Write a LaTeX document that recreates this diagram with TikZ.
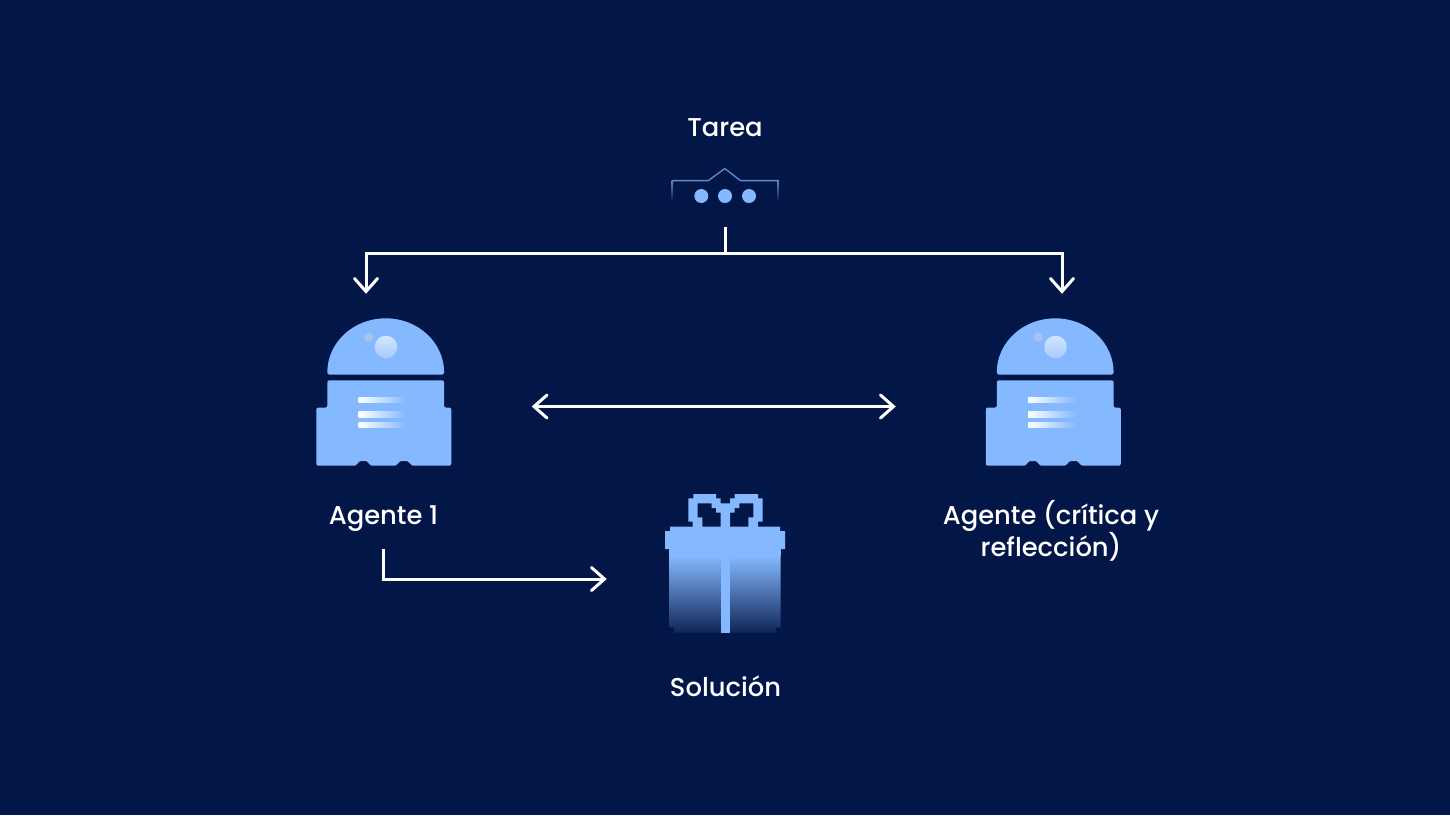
\documentclass[tikz,border=0pt]{standalone}
\usepackage{fontspec}
\setmainfont{Poppins}[UprightFont={* Medium}]
\usetikzlibrary{arrows.meta}
\definecolor{bg}{HTML}{021648}
\definecolor{ico}{HTML}{85B9FF}
\definecolor{ln}{HTML}{5F8CCB}
\definecolor{botm}{HTML}{0F2558}
\definecolor{bubble}{HTML}{A6C3EC}
\pgfdeclarearrow{name=OpenVee,
 setup code={\pgfarrowssettipend{2pt}\pgfarrowssetlineend{-1pt}\pgfarrowssetbackend{-13pt}\pgfarrowssetvisualbackend{-13pt}},
 drawing code={\pgfsetdash{}{0pt}\pgfsetroundcap\pgfsetmiterjoin
  \pgfpathmoveto{\pgfpoint{-13pt}{11.5pt}}\pgfpathlineto{\pgfpoint{0pt}{0pt}}\pgfpathlineto{\pgfpoint{-13pt}{-11.5pt}}\pgfusepathqstroke}}
\tikzset{
 lbl/.style={text=white,font=\fontsize{25.8}{32}\selectfont,align=center,inner sep=0pt},
 conn/.style={draw=white,line width=3pt},
 tip/.style={-{OpenVee}},
 tips/.style={{OpenVee}-{OpenVee}},
 dot/.style={circle,fill=ico,minimum size=14pt,inner sep=0pt},
 stripe/.style={left color=white,right color=ico},
 fadeline/.style={top color=ln,bottom color=bg},
}
\newcommand{\robot}[1]{%
\begin{scope}[xshift=#1]
 \fill[ico] (327.3,372.3) arc[start angle=180,end angle=360,x radius=58.4,y radius=54] -- (444.1,372.8) to[out=90,in=0] (442.6,374.6) -- (329,374.6) to[out=180,in=90] (327.3,372.8) -- cycle;
 \fill[ico,rounded corners=2pt] (327.3,380.3) -- (444.1,380.3) -- (444.1,407.6) -- (451.3,407.6) -- (451.3,465.7) -- (410.8,465.7) -- (409,461) -- (399,461) -- (397.3,465.7) -- (369.5,465.7) -- (368,461) -- (358.5,461) -- (357,465.7) -- (316.3,465.7) -- (316.3,407.6) -- (327.3,407.6) -- cycle;
 \shade[stripe] (358.7,397) rectangle (406,402.3);
 \shade[stripe] (358.7,411.7) rectangle (406,417);
 \shade[stripe] (358.7,422.3) rectangle (406,427.7);
 \shade[top color=ico!35!white,bottom color=ico!75!white] (386,347) circle[radius=11.3];
 \fill[bubble] (368.7,337.3) circle[radius=4.7];
\end{scope}}
\begin{document}
\begin{tikzpicture}[x=1pt,y=-1pt]
\useasboundingbox (0,0) rectangle (1450,815);
\fill[bg] (0,0) rectangle (1450,815);
% labels
\node[lbl] (tarea) at (725,127.5) {Tarea};
\node[lbl] (ag1) at (383.5,518.5) {Agente 1};
\node[lbl] (ag2) at (1051,531) {Agente (crítica y\\reflección)};
\node[lbl] (sol) at (725.5,686) {Solución};
% task icon
\shade[fadeline] (671.6,180) rectangle (673,202);
\shade[fadeline] (777.4,180) rectangle (778.8,202);
\draw[ln,line width=1.3pt] (672.3,180.6) -- (708.3,180.6) -- (724.8,168.5) -- (740.5,180.6) -- (778.1,180.6);
\node[dot] (d1) at (701.3,196) {};
\node[dot] (d2) at (725,196) {};
\node[dot] (d3) at (749,196) {};
% robots
\robot{0pt}
\robot{669.5pt}
% gift
\fill[ico] (669.3,548) rectangle (780.7,556);
\shade[top color=ico,bottom color=botm]
 (669.3,555.5) -- (780.7,555.5) -- (780.7,627.5) -- (776,627.5) -- (776,632.7) -- (674,632.7) -- (674,627.5) -- (669.3,627.5) -- cycle;
\fill[ico] (670,526.7) -- (780,526.7) -- (780,531) -- (785,531) -- (785,549) -- (665,549) -- (665,531) -- (670,531) -- cycle;
\fill[ico] (720.7,526) rectangle (730,632.7);
\fill[ico,even odd rule]
 (688.3,498.3) -- (693.3,498.3) -- (693.3,494) -- (716,494) -- (716,498.3) -- (720.7,498.3) -- (720.7,503.3) -- (730,503.3) -- (730,498.3) -- (734.7,498.3) -- (734.7,494) -- (758,494) -- (758,498.3) -- (762.7,498.3) -- (762.7,521.7) -- (758,521.7) -- (758,527) -- (692.7,527) -- (692.7,521.7) -- (688.3,521.7) -- cycle
 (697.7,503.3) -- (711.7,503.3) -- (711.7,508) -- (716,508) -- (716,512.7) -- (720.7,512.7) -- (720.7,527) -- (702.3,527) -- (702.3,517.3) -- (697.7,517.3) -- cycle
 (753.3,503.3) -- (739.3,503.3) -- (739.3,508) -- (734.7,508) -- (734.7,512.7) -- (730,512.7) -- (730,527) -- (748.3,527) -- (748.3,517.3) -- (753.3,517.3) -- cycle;
% connectors
\coordinate (top) at (725,227);
\coordinate (bus) at (725,253);
\coordinate (busL) at (366,253);
\coordinate (busR) at (1062,253);
\coordinate (inL) at (366,293.5);
\coordinate (inR) at (1062,293.5);
\coordinate (biL) at (532,406.5);
\coordinate (biR) at (895.5,406.5);
\coordinate (ag1out) at (383.5,549);
\coordinate (elbow) at (383.5,579);
\coordinate (solin) at (606.5,579);
\draw[conn] (top) -- (bus);
\draw[conn,tip,line join=miter] (bus) -- (busL) -- (inL);
\draw[conn,tip,line join=miter] (bus) -- (busR) -- (inR);
\draw[conn,tips] (biL) -- (biR);
\draw[conn,tip,line join=miter] (ag1out) -- (elbow) -- (solin);
\end{tikzpicture}
\end{document}
